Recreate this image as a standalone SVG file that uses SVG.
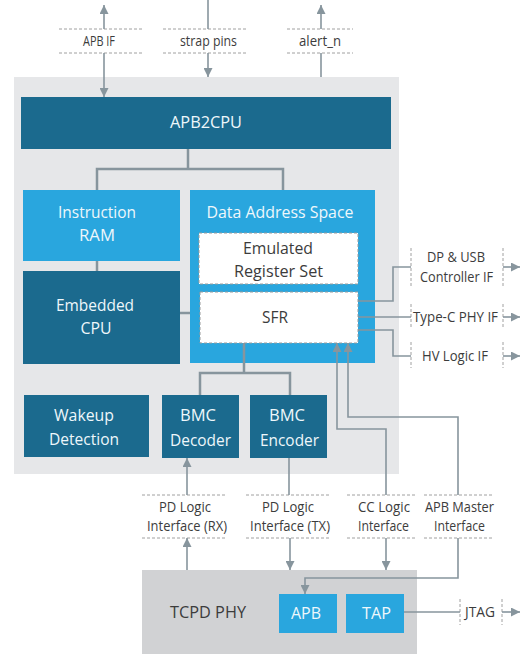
<svg xmlns="http://www.w3.org/2000/svg" width="522" height="654" viewBox="0 0 522 654">
<defs>
<marker id="arr" viewBox="0 0 9 9" refX="9" refY="4.5" markerWidth="9" markerHeight="9" markerUnits="userSpaceOnUse" orient="auto">
<path d="M0,0 L9,4.5 L0,9 z" fill="#87959d"/>
</marker>
<style>
.bg{fill:#e6e7e9}
.phy{fill:#d1d2d4}
.dk{fill:#1b6a8e}
.lt{fill:#29a6de}
.wb{fill:#ffffff;stroke:#9a9a9a;stroke-width:1;stroke-dasharray:3 2}
.dash{stroke:#a0a0a0;stroke-width:1;stroke-dasharray:3 2;fill:none}
.c{fill:none;stroke:#87959d;stroke-width:1.6}
.ct{fill:none;stroke:#87959d;stroke-width:2.5}
.a{marker-end:url(#arr)}
text{font-family:"Open Sans","Noto Sans","Liberation Sans",sans-serif;text-anchor:middle}
.w{fill:#eef7fb;font-size:16.5px}
.d{fill:#3c3c3c;font-size:16.5px}
.s{fill:#3c3c3c;font-size:14px}
</style>
</defs>
<g id="main"><rect class="bg" x="14" y="77" width="385" height="397"/></g>
<g id="tcpd-phy"><rect class="phy" x="142" y="570" width="275" height="84"/><text class="d" x="208" y="618" textLength="76" lengthAdjust="spacingAndGlyphs">TCPD PHY</text></g>
<g id="apb2cpu"><rect class="dk" x="21" y="97" width="370" height="52"/><text class="w" x="206" y="128" textLength="72" lengthAdjust="spacingAndGlyphs">APB2CPU</text></g>
<g id="instruction-ram"><rect class="lt" x="23" y="190" width="157" height="71"/><text class="w" x="97" y="218" textLength="78" lengthAdjust="spacingAndGlyphs">Instruction</text><text class="w" x="97" y="241" textLength="36" lengthAdjust="spacingAndGlyphs">RAM</text></g>
<g id="embedded-cpu"><rect class="dk" x="23" y="271" width="157" height="93"/><text class="w" x="95" y="311" textLength="78" lengthAdjust="spacingAndGlyphs">Embedded</text><text class="w" x="96" y="334" textLength="31" lengthAdjust="spacingAndGlyphs">CPU</text></g>
<g id="data-address-space"><rect class="lt" x="190" y="190" width="185" height="173"/><text class="w" x="280" y="218" textLength="147" lengthAdjust="spacingAndGlyphs">Data Address Space</text></g>
<g id="emulated-register-set"><rect class="wb" x="199" y="233" width="159" height="51"/><text class="d" x="278" y="254" textLength="70" lengthAdjust="spacingAndGlyphs">Emulated</text><text class="d" x="278.5" y="277" textLength="89" lengthAdjust="spacingAndGlyphs">Register Set</text></g>
<g id="sfr"><rect class="wb" x="200" y="292" width="158" height="51"/><text class="d" x="275" y="323" textLength="26" lengthAdjust="spacingAndGlyphs">SFR</text></g>
<g id="wakeup-detection"><rect class="dk" x="24" y="395" width="125" height="62"/><text class="w" x="84" y="421" textLength="60" lengthAdjust="spacingAndGlyphs">Wakeup</text><text class="w" x="84" y="445" textLength="70" lengthAdjust="spacingAndGlyphs">Detection</text></g>
<g id="bmc-decoder"><rect class="dk" x="162" y="395" width="77" height="63"/><text class="w" x="198" y="421" textLength="36" lengthAdjust="spacingAndGlyphs">BMC</text><text class="w" x="200.5" y="446" textLength="61" lengthAdjust="spacingAndGlyphs">Decoder</text></g>
<g id="bmc-encoder"><rect class="dk" x="250" y="395" width="77" height="63"/><text class="w" x="287" y="421" textLength="36" lengthAdjust="spacingAndGlyphs">BMC</text><text class="w" x="289.5" y="446" textLength="59" lengthAdjust="spacingAndGlyphs">Encoder</text></g>
<g id="apb"><rect class="lt" x="279" y="594" width="58" height="39"/><text class="w" x="306" y="619" textLength="30" lengthAdjust="spacingAndGlyphs">APB</text></g>
<g id="tap"><rect class="lt" x="346" y="594" width="58" height="39"/><text class="w" x="376.5" y="619" textLength="29" lengthAdjust="spacingAndGlyphs">TAP</text></g>
<g id="apb-if"><path class="dash" d="M59,29 H143 M59,53 H143"/><text class="s" x="99" y="46" textLength="32" lengthAdjust="spacingAndGlyphs">APB IF</text></g>
<g id="strap-pins"><path class="dash" d="M163,29 H248 M163,53 H248"/><text class="s" x="208.5" y="46" textLength="57" lengthAdjust="spacingAndGlyphs">strap pins</text></g>
<g id="alert-n"><path class="dash" d="M287,29 H353 M287,53 H353"/><text class="s" x="320" y="46" textLength="42" lengthAdjust="spacingAndGlyphs">alert_n</text></g>
<g id="dp-usb-controller-if"><path class="dash" d="M411,248 V287 M503,248 V287"/><text class="s" x="456" y="262" textLength="58" lengthAdjust="spacingAndGlyphs">DP &amp; USB</text><text class="s" x="456.5" y="282" textLength="73" lengthAdjust="spacingAndGlyphs">Controller IF</text></g>
<g id="type-c-phy-if"><path class="dash" d="M411,304 V329 M503,304 V329"/><text class="s" x="455.5" y="322" textLength="85" lengthAdjust="spacingAndGlyphs">Type-C PHY IF</text></g>
<g id="hv-logic-if"><path class="dash" d="M411,342 V368 M503,342 V368"/><text class="s" x="455" y="361" textLength="66" lengthAdjust="spacingAndGlyphs">HV Logic IF</text></g>
<g id="pd-logic-rx"><path class="dash" d="M142,495 H227 M142,538 H227"/><text class="s" x="185" y="512" textLength="52" lengthAdjust="spacingAndGlyphs">PD Logic</text><text class="s" x="187" y="531" textLength="80" lengthAdjust="spacingAndGlyphs">Interface (RX)</text></g>
<g id="pd-logic-tx"><path class="dash" d="M246,495 H330 M246,538 H330"/><text class="s" x="288" y="512" textLength="52" lengthAdjust="spacingAndGlyphs">PD Logic</text><text class="s" x="290" y="531" textLength="80" lengthAdjust="spacingAndGlyphs">Interface (TX)</text></g>
<g id="cc-logic-interface"><path class="dash" d="M347,495 H416 M347,538 H416"/><text class="s" x="384" y="512" textLength="52" lengthAdjust="spacingAndGlyphs">CC Logic</text><text class="s" x="383.5" y="531" textLength="51" lengthAdjust="spacingAndGlyphs">Interface</text></g>
<g id="apb-master-interface"><path class="dash" d="M424,495 H492 M424,538 H492"/><text class="s" x="459.5" y="512" textLength="69" lengthAdjust="spacingAndGlyphs">APB Master</text><text class="s" x="459.5" y="531" textLength="51" lengthAdjust="spacingAndGlyphs">Interface</text></g>
<g id="jtag"><path class="dash" d="M460,599 V625 M502,599 V625"/><text class="s" x="480" y="617" textLength="30" lengthAdjust="spacingAndGlyphs">JTAG</text></g>
<g id="connectors">
<path class="c a" d="M104,29 V5"/>
<path class="c a" d="M104,53 V97"/>
<path class="c" d="M208,0 V29"/>
<path class="c a" d="M208,53 V77"/>
<path class="c a" d="M321,29 V5"/>
<path class="c" d="M321,53 V77"/>
<path class="ct" d="M188,149 V169 M97,190 V169 H283 V190"/>
<path class="ct" d="M97,261 V271"/>
<path class="ct" d="M180,313 H190"/>
<path class="ct" d="M244,343 V373 M200,395 V373 H290 V395"/>
<path class="c" d="M358,301 H393 V267 H411"/>
<path class="c" d="M358,317 H411"/>
<path class="c" d="M358,330 H393 V356 H411"/>
<path class="c a" d="M503,267 H520"/>
<path class="c a" d="M503,317 H520"/>
<path class="c a" d="M503,356 H520"/>
<path class="c a" d="M386,495 V429 H337 V343"/>
<path class="c a" d="M458,495 V417 H348 V343"/>
<path class="c a" d="M187,495 V458"/>
<path class="c a" d="M187,570 V538"/>
<path class="c" d="M289,458 V495"/>
<path class="c a" d="M290,538 V570"/>
<path class="c a" d="M386,538 V570"/>
<path class="c a" d="M458,538 V578 H305 V594"/>
<path class="c" d="M404,612 H460"/>
<path class="c a" d="M502,612 H520"/>
</g>
</svg>
